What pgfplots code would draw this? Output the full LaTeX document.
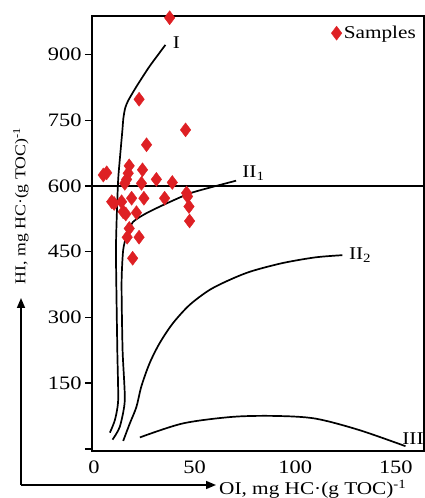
\documentclass[border=0pt]{standalone}
\usepackage{fontspec}
\setmainfont{Liberation Serif}[FakeStretch=1.18]
\usepackage{pgfplots}
\pgfplotsset{compat=1.18}
\usetikzlibrary{arrows.meta}
\definecolor{sRed}{RGB}{222,32,36}

\begin{document}
\begin{tikzpicture}
\useasboundingbox (-92bp,-47bp) rectangle (333bp,451bp);
\begin{axis}[
  scale only axis,
  width=332bp, height=435bp,
  xmin=-1, xmax=164,
  ymin=-5, ymax=988,
  xtick={0,50,100,150},
  ytick={0,150,300,450,600,750,900},
  yticklabels={,150,300,450,600,750,900},
  tick align=outside,
  major tick length=7bp,
  x tick style={draw=none},
  tick style={line width=1.4bp,black},
  ytick pos=left,
  xtick pos=bottom,
  axis line style={line width=1.6bp},
  tick label style={font=\fontsize{19bp}{21bp}\selectfont},
  /pgf/number format/assume math mode=true,
  xticklabel style={yshift=1bp},
  legend style={at={(1,1)},anchor=north east,draw=none,fill=none,
    font=\fontsize{18bp}{20bp}\selectfont,xshift=-3bp,yshift=-6bp},
  legend cell align=left,
]
\addplot[black,line width=1.6bp,forget plot] coordinates {(-1,600) (164,600)};
\addplot[only marks,mark=diamond*,mark size=7bp,color=sRed] coordinates {
  (37.6,984) (22.4,798) (45.5,728) (26.1,694)
  (4.6,625) (6.3,630) (17.5,646) (17,629) (16.2,615) (15.3,606)
  (24.1,637) (23.6,606) (31,615) (38.9,608)
  (8.8,564) (10,560) (13.7,564) (18.7,572) (24.8,572) (35.1,572)
  (46,584) (46.5,576) (47.2,553) (47.5,520)
  (14.5,541) (15.8,536) (21.1,539) (17.5,503) (16.5,483) (22.4,483)
  (19.2,435)
};
\addlegendentry{Samples}
% evolution curves
\addplot[black,line width=1.7bp,smooth,tension=0.4,forget plot] coordinates {
  (7.9,37) (10.4,66) (12,111) (11.6,220) (11.2,339) (10.9,454) (11.3,530)
  (12,614) (13,670) (14.1,727) (14.6,755) (15.5,778) (17,795) (21.1,827)
  (27.6,873) (35.5,922)
};
\addplot[black,line width=1.7bp,smooth,tension=0.4,forget plot] coordinates {
  (9.2,21) (12.8,50) (15.3,111) (14.2,225) (13.7,378) (14.5,454) (16.3,488)
  (19.4,518) (26.1,538) (36,560) (47.5,583) (59,598) (70.6,612)
};
\addplot[black,line width=1.7bp,smooth,tension=0.5,forget plot] coordinates {
  (14.5,18) (17.8,58) (21.1,96) (23.5,142) (27.6,195) (32.6,241) (39.1,286)
  (47.4,328) (57.2,362) (67.1,385) (78,405) (93.7,424) (110,437) (123.4,442)
};
\addplot[black,line width=1.7bp,smooth,tension=0.5,forget plot] coordinates {
  (22.8,26) (44.2,58) (69,73) (90.4,75) (110,69) (131.7,43) (154.8,6)
};
\node[anchor=west,font=\fontsize{18bp}{20bp}\selectfont] at (axis cs:37.5,927) {I};
\node[anchor=west,font=\fontsize{18bp}{20bp}\selectfont] at (axis cs:72,630) {II\textsubscript{1}};
\node[anchor=west,font=\fontsize{18bp}{20bp}\selectfont] at (axis cs:125,442) {II\textsubscript{2}};
\node[anchor=west,font=\fontsize{18bp}{20bp}\selectfont] at (axis cs:151.5,24) {III};
\end{axis}
\draw[line width=1.5bp,-{Triangle[length=10bp,width=8bp]}] (-71bp,-34bp) -- (-71bp,153bp);
\draw[line width=1.5bp,-{Triangle[length=10bp,width=8bp]}] (-71bp,-34bp) -- (124bp,-34bp);
\node[anchor=west,inner sep=1bp,font=\fontsize{18bp}{20bp}\selectfont] at (126bp,-38bp) {OI, mg HC·(g TOC)\textsuperscript{-1}};
\node[rotate=90,inner sep=1bp,font=\fontsize{15bp}{17bp}\selectfont] at (-71bp,245bp) {HI, mg HC·(g TOC)\textsuperscript{-1}};
\end{tikzpicture}
\end{document}
